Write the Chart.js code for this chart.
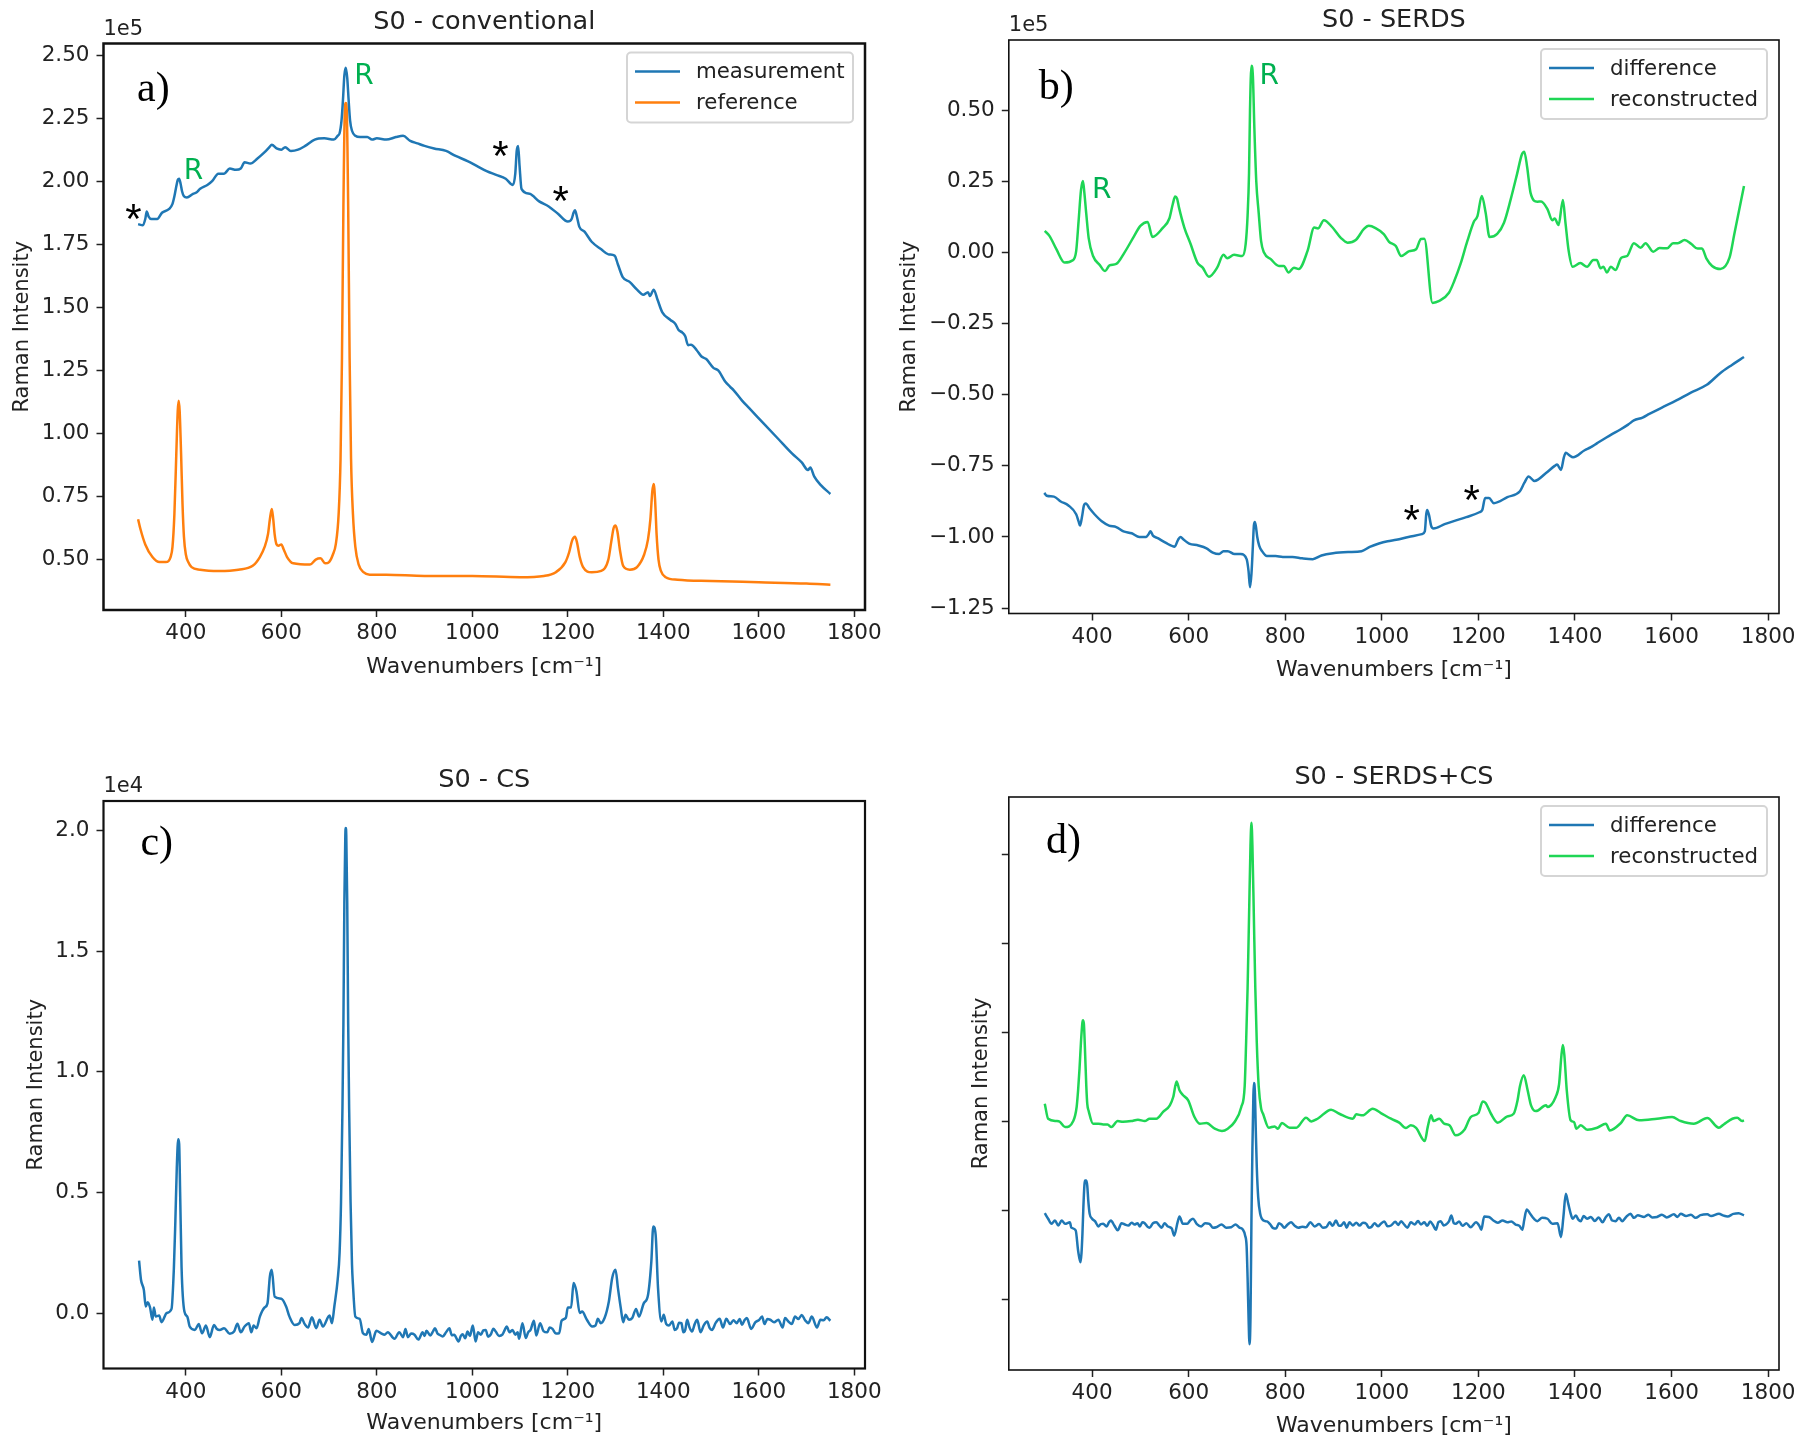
<!DOCTYPE html>
<html>
<head>
<meta charset="utf-8">
<title>S0 Raman spectra</title>
<script src="https://cdn.jsdelivr.net/npm/chart.js@4/dist/chart.umd.min.js"></script>
<style>
  html, body { margin: 0; background: #fff; }
  #page { position: relative; width: 1803px; height: 1441px; overflow: hidden; }
  canvas { position: absolute; }
</style>
</head>
<body>
<div id="page">
  <canvas id="panelA"></canvas>
  <canvas id="panelB"></canvas>
  <canvas id="panelC"></canvas>
  <canvas id="panelD"></canvas>
</div>
<script>
// tick labels
const xTicks = [400, 600, 800, 1000, 1200, 1400, 1600, 1800];
const aTicks = [0.5, 0.75, 1, 1.25, 1.5, 1.75, 2, 2.25, 2.5];
const bTicks = [-1.25, -1, -0.75, -0.5, -0.25, 0, 0.25, 0.5];
const cTicks = [0, 0.5, 1, 1.5, 2];
const dTicks = [-2, -1, 0, 1, 2, 3];

// a) measurement, x 1e5, [wavenumber, intensity]
const measurement = [[300,1.83],[310,1.825],[315,1.85],[318,1.88],[322,1.86],[328,1.85],[340,1.85],[350,1.875],[365,1.89],[372,1.91],[376,1.94],[380,1.98],[383,2.005],[386,2.01],[389,1.99],[392,1.96],[396,1.94],[402,1.935],[415,1.95],[422,1.955],[430,1.97],[445,1.985],[455,2],[468,2.03],[480,2.03],[492,2.05],[505,2.045],[515,2.05],[523,2.075],[535,2.07],[550,2.09],[565,2.115],[575,2.135],[580,2.145],[590,2.13],[600,2.125],[608,2.135],[620,2.12],[635,2.125],[650,2.14],[670,2.165],[690,2.17],[710,2.165],[718,2.18],[722,2.19],[726,2.24],[729,2.32],[732,2.42],[735,2.45],[738,2.41],[741,2.32],[744,2.24],[748,2.2],[755,2.18],[765,2.175],[780,2.175],[790,2.165],[800,2.17],[820,2.165],[840,2.175],[855,2.18],[870,2.16],[885,2.15],[900,2.14],[920,2.13],[945,2.12],[965,2.1],[990,2.08],[1010,2.06],[1030,2.04],[1050,2.025],[1070,2.01],[1085,1.985],[1090,2.03],[1093,2.12],[1096,2.14],[1099,2.06],[1103,1.97],[1120,1.95],[1140,1.92],[1160,1.9],[1180,1.87],[1200,1.84],[1208,1.85],[1212,1.875],[1215,1.885],[1219,1.86],[1224,1.82],[1235,1.8],[1250,1.76],[1270,1.73],[1285,1.71],[1298,1.705],[1305,1.67],[1315,1.62],[1330,1.6],[1345,1.57],[1358,1.55],[1368,1.56],[1372,1.545],[1380,1.57],[1388,1.53],[1398,1.48],[1415,1.45],[1425,1.435],[1432,1.41],[1440,1.4],[1446,1.385],[1452,1.35],[1458,1.352],[1470,1.33],[1480,1.305],[1490,1.295],[1505,1.26],[1515,1.25],[1530,1.205],[1540,1.185],[1548,1.17],[1565,1.13],[1580,1.1],[1610,1.04],[1640,0.98],[1670,0.92],[1690,0.885],[1703,0.855],[1708,0.865],[1716,0.83],[1730,0.795],[1750,0.76]];

// a) reference, x 1e5
const reference = [[300,0.66],[305,0.62],[315,0.56],[330,0.51],[345,0.49],[358,0.49],[368,0.51],[372,0.55],[376,0.68],[380,0.92],[383,1.09],[385,1.13],[387,1.09],[390,0.92],[393,0.72],[396,0.59],[400,0.52],[405,0.49],[412,0.47],[430,0.46],[470,0.455],[510,0.46],[540,0.475],[555,0.51],[565,0.55],[572,0.6],[576,0.66],[580,0.7],[583,0.66],[586,0.6],[590,0.56],[594,0.555],[600,0.56],[605,0.54],[612,0.51],[625,0.485],[660,0.48],[672,0.5],[682,0.505],[692,0.485],[700,0.49],[708,0.52],[714,0.56],[720,0.68],[724,0.9],[727,1.3],[730,1.9],[733,2.28],[735,2.31],[737,2.28],[740,1.9],[743,1.3],[746,0.9],[750,0.68],[755,0.55],[762,0.48],[772,0.45],[785,0.44],[820,0.44],[900,0.435],[1000,0.435],[1100,0.43],[1150,0.435],[1175,0.45],[1195,0.49],[1203,0.53],[1209,0.575],[1215,0.59],[1219,0.57],[1225,0.51],[1232,0.47],[1250,0.45],[1270,0.455],[1285,0.5],[1291,0.57],[1296,0.625],[1300,0.635],[1304,0.61],[1309,0.54],[1316,0.475],[1330,0.46],[1345,0.47],[1360,0.52],[1368,0.58],[1373,0.66],[1377,0.77],[1380,0.8],[1383,0.73],[1386,0.6],[1390,0.5],[1395,0.455],[1405,0.43],[1430,0.42],[1500,0.415],[1600,0.41],[1700,0.405],[1750,0.4]];

// b) difference, x 1e5
const serdsDiff = [[301,-0.845],[306,-0.855],[321,-0.858],[335,-0.875],[351,-0.889],[367,-0.92],[372,-0.945],[375,-0.96],[379,-0.93],[383,-0.89],[387,-0.882],[395,-0.9],[405,-0.92],[420,-0.945],[435,-0.96],[450,-0.965],[465,-0.98],[482,-0.987],[498,-1],[512,-1],[517,-0.99],[521,-0.98],[526,-0.995],[536,-1.004],[552,-1.02],[571,-1.034],[578,-1.01],[583,-1],[590,-1.01],[601,-1.023],[620,-1.03],[637,-1.04],[650,-1.055],[663,-1.06],[672,-1.05],[681,-1.05],[695,-1.06],[708,-1.06],[720,-1.078],[724,-1.12],[727,-1.177],[730,-1.13],[733,-1.03],[735,-0.96],[737,-0.947],[739,-0.96],[742,-1],[746,-1.03],[752,-1.05],[762,-1.067],[780,-1.067],[795,-1.07],[815,-1.07],[835,-1.075],[857,-1.078],[875,-1.065],[899,-1.057],[930,-1.053],[958,-1.05],[975,-1.035],[994,-1.023],[1012,-1.015],[1030,-1.01],[1055,-1],[1083,-0.99],[1089,-0.98],[1092,-0.92],[1094,-0.905],[1098,-0.925],[1102,-0.96],[1107,-0.97],[1130,-0.955],[1149,-0.944],[1175,-0.93],[1202,-0.913],[1208,-0.905],[1214,-0.863],[1222,-0.863],[1232,-0.881],[1260,-0.86],[1286,-0.839],[1295,-0.81],[1304,-0.787],[1316,-0.803],[1340,-0.775],[1358,-0.75],[1363,-0.745],[1371,-0.764],[1377,-0.72],[1381,-0.704],[1388,-0.712],[1396,-0.72],[1420,-0.695],[1432,-0.685],[1446,-0.67],[1465,-0.65],[1475,-0.64],[1494,-0.622],[1510,-0.605],[1522,-0.59],[1540,-0.58],[1554,-0.567],[1580,-0.545],[1610,-0.52],[1640,-0.492],[1673,-0.465],[1700,-0.425],[1725,-0.395],[1750,-0.367]];

// b) reconstructed, x 1e5
const serdsRec = [[302,0.076],[312,0.058],[326,0.012],[343,-0.035],[360,-0.027],[367,0.005],[372,0.11],[377,0.22],[381,0.252],[384,0.21],[388,0.135],[393,0.05],[402,-0.012],[416,-0.044],[427,-0.065],[436,-0.045],[450,-0.04],[467,0],[487,0.058],[500,0.094],[515,0.108],[525,0.055],[546,0.086],[560,0.12],[567,0.17],[572,0.197],[576,0.19],[580,0.158],[591,0.088],[604,0.03],[618,-0.035],[629,-0.053],[642,-0.085],[659,-0.053],[672,-0.008],[680,-0.02],[694,-0.008],[711,-0.012],[718,0.03],[722,0.13],[725,0.28],[727,0.5],[730,0.657],[733,0.62],[736,0.44],[740,0.25],[745,0.14],[750,0.04],[756,0],[770,-0.023],[787,-0.047],[797,-0.047],[807,-0.07],[818,-0.053],[828,-0.058],[846,0.005],[860,0.088],[868,0.085],[880,0.114],[897,0.09],[915,0.052],[929,0.035],[946,0.044],[963,0.083],[973,0.094],[987,0.086],[1004,0.065],[1015,0.038],[1029,0.023],[1040,-0.012],[1057,0.005],[1071,0.012],[1081,0.048],[1088,0.049],[1105,-0.177],[1119,-0.17],[1139,-0.141],[1150,-0.1],[1163,-0.04],[1177,0.04],[1191,0.11],[1198,0.128],[1207,0.199],[1215,0.14],[1223,0.055],[1239,0.066],[1253,0.105],[1267,0.188],[1280,0.276],[1290,0.345],[1295,0.355],[1301,0.3],[1308,0.21],[1322,0.179],[1330,0.18],[1343,0.153],[1353,0.114],[1358,0.12],[1366,0.097],[1375,0.185],[1380,0.11],[1387,0.005],[1395,-0.05],[1411,-0.037],[1425,-0.05],[1438,-0.026],[1445,-0.026],[1453,-0.055],[1459,-0.05],[1466,-0.07],[1474,-0.05],[1484,-0.061],[1496,-0.018],[1508,-0.012],[1522,0.033],[1536,0.017],[1546,0.033],[1562,0.003],[1575,0.016],[1591,0.015],[1603,0.033],[1613,0.033],[1627,0.044],[1641,0.03],[1654,0.014],[1663,0.014],[1672,-0.02],[1684,-0.047],[1701,-0.058],[1720,-0.018],[1730,0.065],[1750,0.234]];

// c) CS spectrum, x 1e4
const csSpectrum = [[302,0.217],[306,0.138],[312,0.096],[316,0.027],[320,0.045],[325,0.023],[330,-0.028],[333,0.023],[337,-0.015],[344,-0.01],[349,-0.038],[360,0],[370,0.017],[375,0.19],[378,0.38],[381,0.6],[384,0.72],[386,0.7],[388,0.5],[391,0.19],[397,0.006],[403,-0.015],[408,-0.056],[419,-0.07],[427,-0.046],[434,-0.084],[442,-0.052],[450,-0.1],[459,-0.05],[465,-0.066],[471,-0.07],[480,-0.063],[492,-0.086],[501,-0.077],[508,-0.045],[515,-0.08],[523,-0.056],[532,-0.042],[537,-0.08],[542,-0.052],[548,-0.063],[555,-0.015],[565,0.023],[571,0.04],[576,0.152],[580,0.179],[586,0.068],[600,0.059],[610,0.027],[617,-0.015],[628,-0.05],[638,-0.042],[642,-0.021],[649,-0.046],[656,-0.06],[664,-0.018],[673,-0.063],[680,-0.028],[687,-0.056],[701,-0.01],[706,-0.042],[711,0.027],[718,0.138],[722,0.25],[725,0.46],[728,0.85],[730,1.2],[732,1.7],[734,1.98],[735,2.01],[736,1.98],[738,1.7],[740,1.2],[742,0.85],[745,0.46],[748,0.2],[750,0.117],[755,-0.015],[764,-0.024],[771,-0.084],[778,-0.09],[783,-0.066],[790,-0.12],[799,-0.074],[809,-0.084],[816,-0.09],[823,-0.08],[837,-0.107],[847,-0.08],[855,-0.1],[860,-0.066],[865,-0.1],[872,-0.085],[879,-0.09],[887,-0.11],[896,-0.08],[900,-0.095],[904,-0.074],[912,-0.093],[918,-0.075],[922,-0.063],[927,-0.085],[931,-0.09],[938,-0.097],[945,-0.08],[952,-0.063],[957,-0.092],[962,-0.09],[971,-0.118],[976,-0.095],[980,-0.088],[985,-0.105],[990,-0.077],[995,-0.095],[1001,-0.052],[1007,-0.118],[1012,-0.08],[1018,-0.09],[1023,-0.072],[1028,-0.07],[1033,-0.098],[1039,-0.088],[1044,-0.065],[1049,-0.077],[1056,-0.095],[1063,-0.09],[1068,-0.07],[1072,-0.056],[1078,-0.08],[1084,-0.07],[1090,-0.09],[1095,-0.08],[1098,-0.107],[1105,-0.042],[1112,-0.104],[1117,-0.08],[1122,-0.07],[1129,-0.032],[1134,-0.093],[1142,-0.042],[1149,-0.075],[1157,-0.08],[1162,-0.06],[1168,-0.066],[1175,-0.085],[1182,-0.084],[1187,-0.032],[1196,-0.02],[1200,0.023],[1207,0.023],[1212,0.124],[1218,0.09],[1225,0],[1230,0.006],[1240,-0.028],[1251,-0.056],[1258,-0.052],[1263,-0.024],[1269,-0.042],[1277,-0.021],[1286,0.048],[1293,0.145],[1300,0.179],[1305,0.103],[1311,0.02],[1316,-0.038],[1321,-0.007],[1328,-0.028],[1335,-0.021],[1343,0.017],[1349,-0.015],[1359,0.04],[1368,0.075],[1375,0.214],[1379,0.359],[1384,0.324],[1389,0.103],[1396,-0.035],[1401,-0.007],[1406,-0.045],[1412,-0.052],[1419,-0.035],[1424,-0.07],[1429,-0.063],[1433,-0.04],[1438,-0.042],[1442,-0.08],[1446,-0.07],[1450,-0.028],[1455,-0.06],[1460,-0.077],[1466,-0.045],[1471,-0.028],[1478,-0.08],[1485,-0.05],[1492,-0.035],[1497,-0.062],[1502,-0.07],[1510,-0.04],[1518,-0.024],[1525,-0.06],[1532,-0.024],[1540,-0.046],[1547,-0.03],[1554,-0.042],[1560,-0.025],[1565,-0.049],[1570,-0.03],[1575,-0.021],[1584,-0.066],[1593,-0.038],[1600,-0.03],[1607,-0.015],[1612,-0.046],[1618,-0.025],[1624,-0.028],[1632,-0.038],[1641,-0.028],[1650,-0.06],[1655,-0.021],[1662,-0.035],[1669,-0.046],[1676,-0.015],[1683,-0.025],[1690,-0.008],[1697,-0.03],[1704,-0.042],[1711,-0.015],[1722,-0.06],[1729,-0.028],[1736,-0.03],[1742,-0.018],[1750,-0.032]];

// d) difference, arbitrary units
const comboDiff = [[302,-1.027],[309,-1.09],[316,-1.147],[323,-1.11],[330,-1.166],[337,-1.11],[344,-1.147],[354,-1.13],[357,-1.19],[366,-1.22],[371,-1.447],[376,-1.58],[378,-1.48],[380,-1.26],[382,-0.95],[384,-0.72],[385,-0.66],[388,-0.66],[390,-0.72],[392,-0.88],[395,-1.035],[400,-1.09],[406,-1.117],[413,-1.177],[418,-1.15],[423,-1.147],[430,-1.177],[435,-1.13],[439,-1.11],[446,-1.166],[453,-1.22],[461,-1.14],[468,-1.155],[475,-1.166],[482,-1.135],[488,-1.155],[494,-1.14],[499,-1.177],[504,-1.13],[509,-1.14],[514,-1.175],[519,-1.19],[526,-1.14],[533,-1.13],[539,-1.165],[544,-1.19],[550,-1.14],[557,-1.177],[565,-1.2],[570,-1.28],[577,-1.13],[581,-1.064],[588,-1.147],[597,-1.147],[603,-1.11],[609,-1.09],[617,-1.15],[626,-1.177],[634,-1.14],[643,-1.147],[650,-1.19],[657,-1.185],[668,-1.155],[678,-1.19],[688,-1.185],[697,-1.155],[705,-1.19],[712,-1.21],[717,-1.28],[720,-1.4],[722,-1.75],[724,-2.2],[726,-2.5],[728,-2.2],[730,-1.1],[732,-0.3],[734,0.3],[735,0.437],[737,0.35],[739,-0.1],[741,-0.5],[744,-0.85],[748,-1.03],[755,-1.11],[762,-1.12],[768,-1.147],[775,-1.195],[781,-1.2],[787,-1.14],[792,-1.155],[798,-1.19],[805,-1.155],[812,-1.13],[819,-1.166],[827,-1.19],[835,-1.18],[843,-1.185],[852,-1.13],[861,-1.177],[870,-1.15],[878,-1.19],[885,-1.185],[892,-1.13],[898,-1.17],[905,-1.11],[911,-1.17],[916,-1.166],[922,-1.13],[927,-1.19],[933,-1.13],[940,-1.165],[947,-1.135],[954,-1.166],[961,-1.135],[968,-1.147],[973,-1.19],[978,-1.185],[985,-1.14],[992,-1.175],[998,-1.147],[1005,-1.12],[1012,-1.175],[1019,-1.166],[1028,-1.125],[1034,-1.16],[1040,-1.117],[1047,-1.16],[1053,-1.19],[1060,-1.13],[1068,-1.155],[1075,-1.115],[1081,-1.155],[1088,-1.13],[1094,-1.17],[1100,-1.12],[1106,-1.16],[1112,-1.215],[1117,-1.13],[1122,-1.117],[1128,-1.165],[1133,-1.155],[1139,-1.12],[1144,-1.053],[1149,-1.14],[1153,-1.147],[1160,-1.12],[1167,-1.17],[1175,-1.14],[1184,-1.185],[1195,-1.13],[1202,-1.17],[1206,-1.215],[1212,-1.064],[1222,-1.07],[1231,-1.11],[1240,-1.135],[1250,-1.11],[1260,-1.13],[1268,-1.12],[1277,-1.155],[1285,-1.17],[1291,-1.215],[1295,-1.1],[1300,-0.985],[1308,-1.04],[1315,-1.09],[1322,-1.117],[1332,-1.08],[1343,-1.09],[1353,-1.147],[1364,-1.14],[1371,-1.297],[1376,-1.07],[1381,-0.81],[1386,-0.92],[1392,-1.05],[1395,-1.09],[1402,-1.053],[1407,-1.1],[1412,-1.117],[1418,-1.06],[1425,-1.09],[1433,-1.07],[1441,-1.115],[1449,-1.075],[1457,-1.13],[1464,-1.07],[1470,-1.04],[1477,-1.11],[1484,-1.117],[1491,-1.08],[1498,-1.117],[1506,-1.07],[1515,-1.034],[1522,-1.08],[1530,-1.05],[1543,-1.07],[1552,-1.045],[1560,-1.075],[1570,-1.07],[1580,-1.045],[1590,-1.075],[1605,-1.04],[1612,-1.07],[1619,-1.034],[1630,-1.06],[1640,-1.045],[1650,-1.08],[1660,-1.05],[1674,-1.04],[1682,-1.06],[1698,-1.034],[1708,-1.055],[1716,-1.064],[1728,-1.035],[1739,-1.027],[1750,-1.053]];

// d) reconstructed, arbitrary units
const comboRec = [[302,0.203],[309,0.034],[326,0.008],[333,0],[344,-0.06],[361,0.008],[368,0.166],[371,0.353],[374,0.6],[377,0.9],[380,1.12],[381,1.14],[383,1.1],[385,0.85],[388,0.4],[390,0.2],[393,0.12],[402,-0.022],[413,-0.022],[423,-0.03],[432,-0.03],[440,-0.06],[453,0.008],[464,0],[481,0.008],[495,0.023],[509,0.008],[519,0.034],[533,0.034],[547,0.11],[561,0.185],[568,0.278],[575,0.452],[581,0.353],[588,0.3],[599,0.241],[612,0.053],[623,-0.022],[637,-0.014],[654,-0.078],[669,-0.104],[681,-0.078],[695,-0.003],[709,0.166],[716,0.4],[719,0.9],[722,1.5],[725,2.3],[728,3.1],[730,3.36],[732,3.1],[735,2.3],[738,1.5],[741,0.9],[745,0.4],[750,0.15],[754,0.09],[766,-0.067],[778,-0.052],[785,-0.078],[793,-0.014],[809,-0.067],[823,-0.067],[843,0.046],[854,0.004],[867,0.034],[895,0.136],[912,0.09],[940,0.034],[947,0.083],[960,0.072],[981,0.147],[998,0.098],[1019,0.034],[1036,-0.01],[1050,-0.07],[1060,-0.04],[1071,-0.07],[1089,-0.217],[1095,-0.06],[1102,0.072],[1107,0.008],[1119,0.034],[1129,-0.022],[1140,-0.04],[1153,-0.153],[1171,-0.09],[1184,0.053],[1200,0.098],[1209,0.229],[1215,0.21],[1226,0.09],[1240,-0.01],[1260,0.06],[1273,0.09],[1281,0.24],[1286,0.4],[1294,0.522],[1302,0.353],[1309,0.185],[1319,0.12],[1340,0.185],[1343,0.166],[1360,0.278],[1367,0.42],[1372,0.75],[1375,0.863],[1378,0.75],[1383,0.353],[1391,0.016],[1398,-0.003],[1403,-0.078],[1412,-0.04],[1426,-0.09],[1446,-0.067],[1464,-0.022],[1472,-0.097],[1495,-0.014],[1508,0.072],[1533,0.016],[1570,0.034],[1601,0.053],[1619,0.008],[1646,-0.022],[1674,0.042],[1698,-0.067],[1708,-0.03],[1726,0.034],[1736,0.046],[1746,0.008],[1750,0.016]];

const BLUE = '#1f77b4';
const ORANGE = '#ff7f0e';
const GREEN = '#1fd655';
const NOTE_GREEN = '#00b050';
const FONT = '"DejaVu Sans", sans-serif';

function line(label, color, pairs) {
    return {
        label: label,
        data: pairs.map(p => ({ x: p[0], y: p[1] })),
        borderColor: color,
        backgroundColor: color,
        borderWidth: 2.5,
        pointRadius: 0,
        showLine: true,
        cubicInterpolationMode: 'monotone'
    };
}

// frame, offset text, legend box and the a)/R/* notes
const extrasPlugin = {
    id: 'extras',
    afterDraw(chart, args, opts) {
        const ctx = chart.ctx;
        const area = chart.chartArea;
        ctx.save();
        ctx.strokeStyle = '#111';
        ctx.lineWidth = opts.frameWidth;
        ctx.strokeRect(area.left, area.top, area.right - area.left, area.bottom - area.top);

        ctx.fillStyle = '#222';
        if (opts.offsetText) {
            ctx.font = '21px ' + FONT;
            ctx.textAlign = 'left';
            ctx.textBaseline = 'middle';
            ctx.fillText(opts.offsetText, area.left, area.top - opts.offsetGap);
        }

        if (opts.legend) {
            const w = 226, h = 70;
            const left = area.right - 12 - w;
            const top = area.top + 9;
            ctx.fillStyle = 'rgba(255,255,255,0.8)';
            ctx.strokeStyle = '#d5d5d5';
            ctx.lineWidth = 2;
            ctx.beginPath();
            ctx.roundRect(left, top, w, h, 4);
            ctx.fill();
            ctx.stroke();
            ctx.font = '21.3px ' + FONT;
            ctx.textAlign = 'left';
            ctx.textBaseline = 'middle';
            chart.data.datasets.forEach((ds, i) => {
                const y = top + 20 + i * 31;
                ctx.strokeStyle = ds.borderColor;
                ctx.lineWidth = 2.5;
                ctx.beginPath();
                ctx.moveTo(left + 8, y - 1);
                ctx.lineTo(left + 53, y - 1);
                ctx.stroke();
                ctx.fillStyle = '#222';
                ctx.fillText(ds.label, left + 69, y);
            });
        }

        ctx.textAlign = 'center';
        ctx.textBaseline = 'middle';
        (opts.notes || []).forEach(n => {
            ctx.font = n.font;
            ctx.fillStyle = n.color;
            ctx.fillText(n.text, chart.scales.x.getPixelForValue(n.x), chart.scales.y.getPixelForValue(n.y));
        });
        ctx.restore();
    }
};

function makePanel(p) {
    const canvas = document.getElementById(p.id);
    canvas.width = p.box[2];
    canvas.height = p.box[3];
    canvas.style.left = p.box[0] + 'px';
    canvas.style.top = p.box[1] + 'px';
    return new Chart(canvas.getContext('2d'), {
        type: 'scatter',
        data: { datasets: p.datasets },
        plugins: [extrasPlugin],
        options: {
            responsive: false,
            animation: false,
            events: [],
            layout: { padding: { right: p.box[2] - p.frame.right, left: 0, top: 0, bottom: 0 } },
            scales: {
                x: {
                    type: 'linear',
                    min: 227.5,
                    max: 1822.5,
                    afterBuildTicks: s => { s.ticks = xTicks.map(v => ({ value: v })); },
                    afterFit: s => { s.height = p.box[3] - p.frame.bottom; },
                    grid: { drawOnChartArea: false, tickLength: 7, tickColor: '#222', tickWidth: 1.5 },
                    border: { display: false },
                    ticks: { autoSkip: false, maxRotation: 0, padding: 4, color: '#222', font: { family: FONT, size: 21.5 }, callback: v => String(v) },
                    title: { display: true, text: 'Wavenumbers [cm\u207B\u00B9]', color: '#222', font: { family: FONT, size: 22 }, padding: { top: 0, bottom: p.xTitleBottom } }
                },
                y: {
                    type: 'linear',
                    min: p.yRange[0],
                    max: p.yRange[1],
                    afterBuildTicks: s => { s.ticks = p.yTicks.map(v => ({ value: v })); },
                    afterFit: s => { s.width = p.frame.left; },
                    grid: { drawOnChartArea: false, tickLength: 7, tickColor: '#222', tickWidth: 1.5 },
                    border: { display: false },
                    ticks: { autoSkip: false, padding: 7, color: '#222', font: { family: FONT, size: 21.5 }, callback: p.yLabel },
                    title: { display: true, text: 'Raman Intensity', color: '#222', font: { family: FONT, size: 21 }, padding: { top: p.yTitleCenter - 12.6, bottom: 0 } }
                }
            },
            plugins: {
                legend: { display: false },
                tooltip: { enabled: false },
                title: {
                    display: true,
                    fullSize: false,
                    text: p.title,
                    color: '#222',
                    font: { family: FONT, size: 25.5, weight: 'normal' },
                    padding: { top: p.titleCenter - 15.3, bottom: p.frame.top - p.titleCenter - 15.3 }
                },
                extras: {
                    frameWidth: p.frameWidth,
                    offsetText: p.offsetText,
                    offsetGap: p.offsetGap,
                    legend: p.legend,
                    notes: p.notes
                }
            }
        }
    });
}

const fixed2 = v => (v < 0 ? '\u2212' : '') + Math.abs(v).toFixed(2);
const fixed1 = v => v.toFixed(1);
const panelLetter = '42px "Liberation Serif", serif';
const peakLetter = '28px ' + FONT;
const star = '42px "Liberation Sans", sans-serif';

makePanel({
    id: 'panelA',
    box: [0, 0, 900, 700],
    frame: { left: 103.5, right: 865, top: 43.5, bottom: 610 },
    yRange: [0.3, 2.546],
    yTicks: aTicks,
    yLabel: fixed2,
    title: 'S0 - conventional',
    titleCenter: 22.5,
    yTitleCenter: 22.7,
    xTitleBottom: 20,
    frameWidth: 2.5,
    offsetText: '1e5',
    offsetGap: 14,
    legend: true,
    datasets: [line('measurement', BLUE, measurement), line('reference', ORANGE, reference)],
    notes: [
        { text: 'a)', x: 332, y: 2.36, font: panelLetter, color: '#000' },
        { text: 'R', x: 773, y: 2.413, font: peakLetter, color: NOTE_GREEN },
        { text: 'R', x: 416, y: 2.036, font: peakLetter, color: NOTE_GREEN },
        { text: '*', x: 290, y: 1.84, font: star, color: '#000' },
        { text: '*', x: 1059, y: 2.09, font: star, color: '#000' },
        { text: '*', x: 1185, y: 1.91, font: star, color: '#000' }
    ]
});

makePanel({
    id: 'panelB',
    box: [880, 0, 923, 700],
    frame: { left: 128.8, right: 899, top: 40, bottom: 613.5 },
    yRange: [-1.269, 0.7475],
    yTicks: bTicks,
    yLabel: fixed2,
    title: 'S0 - SERDS',
    titleCenter: 20,
    yTitleCenter: 30,
    xTitleBottom: 17,
    frameWidth: 1.6,
    offsetText: '1e5',
    offsetGap: 14,
    legend: true,
    datasets: [line('difference', BLUE, serdsDiff), line('reconstructed', GREEN, serdsRec)],
    notes: [
        { text: 'b)', x: 326, y: 0.579, font: panelLetter, color: '#000' },
        { text: 'R', x: 767, y: 0.617, font: peakLetter, color: NOTE_GREEN },
        { text: 'R', x: 420, y: 0.217, font: peakLetter, color: NOTE_GREEN },
        { text: '*', x: 1062, y: -0.95, font: star, color: '#000' },
        { text: '*', x: 1186, y: -0.88, font: star, color: '#000' }
    ]
});

makePanel({
    id: 'panelC',
    box: [0, 741, 900, 700],
    frame: { left: 103.5, right: 865, top: 60, bottom: 627.5 },
    yRange: [-0.23, 2.122],
    yTicks: cTicks,
    yLabel: fixed1,
    title: 'S0 - CS',
    titleCenter: 39,
    yTitleCenter: 37,
    xTitleBottom: 4.2,
    frameWidth: 2.2,
    offsetText: '1e4',
    offsetGap: 14,
    legend: false,
    datasets: [line('CS', BLUE, csSpectrum)],
    notes: [{ text: 'c)', x: 339, y: 1.944, font: panelLetter, color: '#000' }]
});

makePanel({
    id: 'panelD',
    box: [880, 741, 923, 700],
    frame: { left: 128.8, right: 899, top: 56, bottom: 629 },
    yRange: [-2.79, 3.65],
    yTicks: dTicks,
    yLabel: () => '',
    title: 'S0 - SERDS+CS',
    titleCenter: 36.5,
    yTitleCenter: 102,
    xTitleBottom: 1.2,
    frameWidth: 1.6,
    offsetText: '',
    offsetGap: 0,
    legend: true,
    datasets: [line('difference', BLUE, comboDiff), line('reconstructed', GREEN, comboRec)],
    notes: [{ text: 'd)', x: 341, y: 3.15, font: panelLetter, color: '#000' }]
});
</script>
</body>
</html>
